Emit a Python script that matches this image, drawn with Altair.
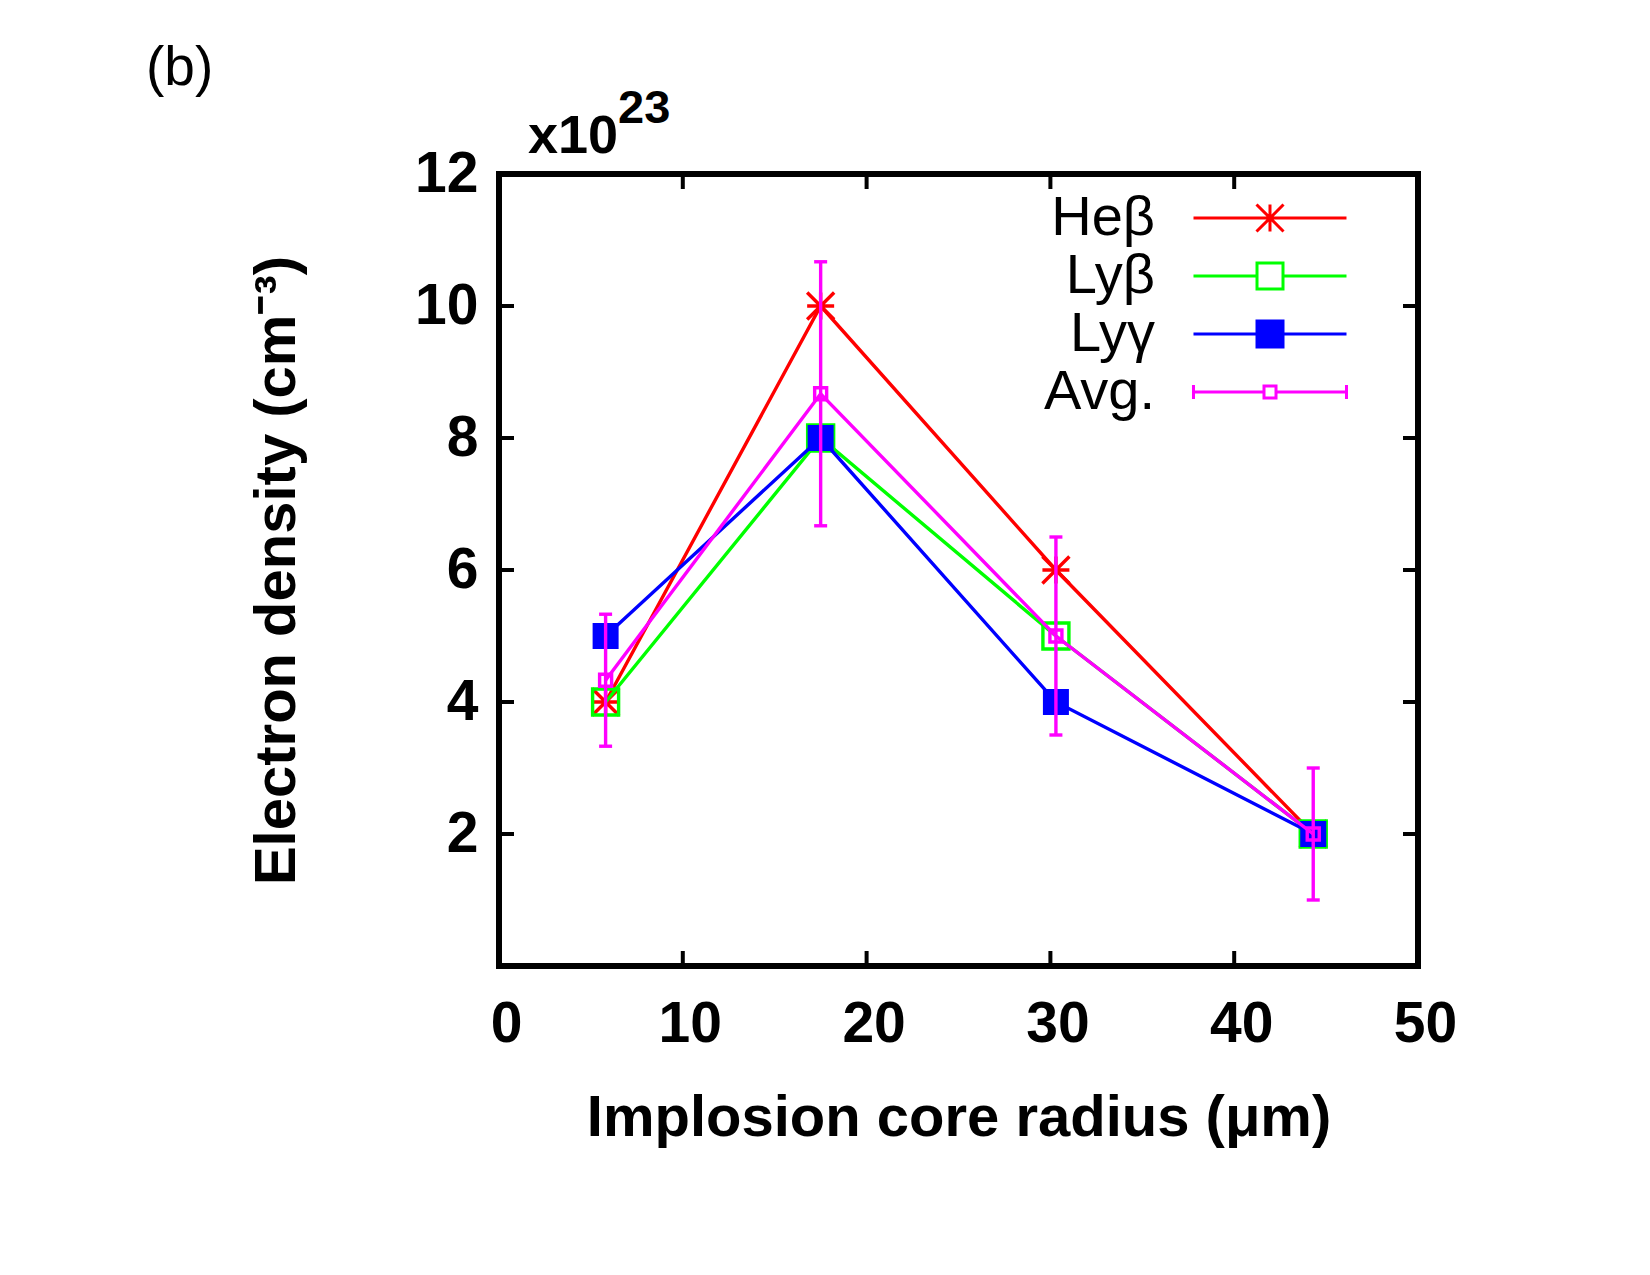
import altair as alt
import pandas as pd

# ---- data ----
radius = [5.8, 17.5, 30.3, 44.3]
he_beta = [4.0, 10.0, 6.0, 2.0]
ly_beta = [4.0, 8.0, 5.0, 2.0]
ly_gamma = [5.0, 8.0, 4.0, 2.0]
avg = [4.33, 8.67, 5.0, 2.0]
avg_err = [1.0, 2.0, 1.5, 1.0]

series_names = ["Heβ", "Lyβ", "Lyγ", "Avg."]
series_colors = ["#ff0000", "#00ff00", "#0000ff", "#ff00ff"]
x_tick_values = [0, 10, 20, 30, 40, 50]
y_tick_values = [2, 4, 6, 8, 10, 12]
x_inner_ticks = [10, 20, 30, 40]
y_inner_ticks = [2, 4, 6, 8, 10]

FONT = "Liberation Sans"
W, H = 919, 792
LW = 3.4

rows = []
for name, vals in zip(series_names, [he_beta, ly_beta, ly_gamma, avg]):
    for r, v, e in zip(radius, vals, avg_err):
        rows.append({"series": name, "radius": r, "density": v,
                     "err": e if name == "Avg." else 0.0})
df = pd.DataFrame(rows)

xs = alt.Scale(domain=[0, 50], nice=False, zero=False)
ys = alt.Scale(domain=[0, 12], nice=False, zero=False)

x_axis = alt.Axis(values=x_tick_values, format="d", title="Implosion core radius (μm)",
                  labelFont=FONT, labelFontSize=57, labelFontWeight="bold", labelColor="black",
                  labelPadding=58, labelBaseline="middle", labelOffset=7,
                  ticks=False, tickSize=0, domain=False, grid=False,
                  labelFlush=False, labelOverlap=False,
                  titleFont=FONT, titleFontSize=58, titleFontWeight="bold", titleColor="black",
                  titleX=W / 2, titleY=169, titleAlign="center", titleBaseline="alphabetic")
y_axis = alt.Axis(values=y_tick_values, format="d", title="Electron density (cm⁻³)",
                  labelFont=FONT, labelFontSize=57, labelFontWeight="bold", labelColor="black",
                  labelPadding=21, ticks=False, tickSize=0, domain=False, grid=False,
                  labelFlush=False, labelOverlap=False,
                  titleFont=FONT, titleFontSize=58, titleFontWeight="bold", titleColor="black",
                  titleX=-205, titleY=H / 2, titleAngle=270, titleAlign="center",
                  titleBaseline="alphabetic")

X = alt.X("radius:Q", scale=xs, axis=x_axis)
Y = alt.Y("density:Q", scale=ys, axis=y_axis)

layers = []

# inward ticks on all four sides
xt = pd.DataFrame({"radius": x_inner_ticks})
yt = pd.DataFrame({"density": y_inner_ticks})
layers.append(alt.Chart(xt).mark_rule(color="black", strokeWidth=4).encode(
    x=X, y=alt.value(H), y2=alt.value(H - 15)))
layers.append(alt.Chart(xt).mark_rule(color="black", strokeWidth=4).encode(
    x=X, y=alt.value(0), y2=alt.value(15)))
layers.append(alt.Chart(yt).mark_rule(color="black", strokeWidth=4).encode(
    y=Y, x=alt.value(0), x2=alt.value(15)))
layers.append(alt.Chart(yt).mark_rule(color="black", strokeWidth=4).encode(
    y=Y, x=alt.value(W), x2=alt.value(W - 15)))

ASTER = "M-1,0H1M0,-1V1M-1,-1L1,1M-1,1L1,-1"
point_style = {
    "Heβ": dict(shape=ASTER, size=729, filled=False, strokeWidth=LW),
    "Lyβ": dict(shape="square", size=676, filled=False, strokeWidth=LW),
    "Lyγ": dict(shape="square", size=676, filled=True),
    "Avg.": dict(shape="square", size=144, filled=False, strokeWidth=LW),
}

for name, col in zip(series_names, series_colors):
    base = alt.Chart(df).transform_filter(alt.datum.series == name)
    layers.append(base.mark_line(color=col, strokeWidth=LW).encode(x=X, y=Y))
    if name == "Avg.":
        eb = base.transform_calculate(lo="datum.density - datum.err",
                                      hi="datum.density + datum.err")
        layers.append(eb.mark_rule(color=col, strokeWidth=LW).encode(
            x=X, y=alt.Y("lo:Q", scale=ys, axis=y_axis), y2=alt.Y2("hi:Q")))
        layers.append(eb.mark_tick(color=col, orient="horizontal", size=13, thickness=LW,
                                   opacity=1).encode(
            x=X, y=alt.Y("lo:Q", scale=ys, axis=y_axis)))
        layers.append(eb.mark_tick(color=col, orient="horizontal", size=13, thickness=LW,
                                   opacity=1).encode(
            x=X, y=alt.Y("hi:Q", scale=ys, axis=y_axis)))
    layers.append(base.mark_point(color=col, opacity=1, **point_style[name]).encode(x=X, y=Y))

# ---- legend: each symbol path holds the sample line and the marker, drawn to the
# right of the (right-aligned) label ----
LEG_R = 26.5                      # px per path unit (sqrt(symbolSize)/2)
LEG_SIZE = (2 * LEG_R) ** 2
CX = 143 / LEG_R                  # centre of sample, right of label end
HALF = 76.5 / LEG_R               # half length of sample line


def u(px):
    return px / LEG_R


def fmt(v):
    return f"{v:.3f}"


def sq(h):
    return (f"M{fmt(CX - h)},{fmt(-h)}H{fmt(CX + h)}V{fmt(h)}H{fmt(CX - h)}Z")


L0, L1 = CX - HALF, CX + HALF
a = u(13.5)
s1 = u(13)
q = u(6)
c = u(7)
PAD = "M-4,0"
legend_paths = [
    PAD + f"M{fmt(L0)},0H{fmt(L1)}"
    f"M{fmt(CX - a)},0H{fmt(CX + a)}M{fmt(CX)},{fmt(-a)}V{fmt(a)}"
    f"M{fmt(CX - a)},{fmt(-a)}L{fmt(CX + a)},{fmt(a)}"
    f"M{fmt(CX - a)},{fmt(a)}L{fmt(CX + a)},{fmt(-a)}",
    PAD + f"M{fmt(L0)},0H{fmt(CX - s1)}M{fmt(CX + s1)},0H{fmt(L1)}" + sq(s1),
    PAD + f"M{fmt(L0)},0H{fmt(L1)}" + sq(s1),
    PAD + f"M{fmt(L0)},{fmt(-c)}V{fmt(c)}M{fmt(L1)},{fmt(-c)}V{fmt(c)}"
    f"M{fmt(L0)},0H{fmt(CX - q)}M{fmt(CX + q)},0H{fmt(L1)}" + sq(q),
]
legend_fills = ["transparent", "transparent", "#0000ff", "transparent"]

leg = alt.Legend(title=None, orient="none", legendX=600, legendY=16,
                 symbolSize=LEG_SIZE, symbolStrokeWidth=3,
                 labelFont=FONT, labelFontSize=56, labelFontWeight="normal",
                 labelColor="black", labelAlign="right", labelOffset=0,
                 labelLimit=0, rowPadding=2, padding=0)

layers.append(alt.Chart(df).mark_point(clip=True, size=LEG_SIZE, strokeWidth=3, opacity=1,
                                       filled=False).encode(
    x=X, y=Y, yOffset=alt.value(3000),
    shape=alt.Shape("series:N", scale=alt.Scale(domain=series_names, range=legend_paths),
                    legend=leg),
    stroke=alt.Stroke("series:N", scale=alt.Scale(domain=series_names, range=series_colors),
                      legend=leg),
    fill=alt.Fill("series:N", scale=alt.Scale(domain=series_names, range=legend_fills),
                  legend=leg),
))

# annotations
ann = pd.DataFrame({"k": [0]})
layers.append(alt.Chart(ann).mark_text(text="(b)", font=FONT, fontSize=55, align="left",
                                       baseline="alphabetic", color="black").encode(
    x=alt.value(-353), y=alt.value(-89)))
layers.append(alt.Chart(ann).mark_text(text="x10", font=FONT, fontSize=54, fontWeight="bold",
                                       align="left", baseline="alphabetic",
                                       color="black").encode(
    x=alt.value(29), y=alt.value(-21)))
layers.append(alt.Chart(ann).mark_text(text="23", font=FONT, fontSize=47, fontWeight="bold",
                                       align="left", baseline="alphabetic",
                                       color="black").encode(
    x=alt.value(119), y=alt.value(-51)))

chart = alt.layer(*layers).properties(
    width=W, height=H,
    autosize=alt.AutoSizeParams(type="none"),
    padding={"left": 499, "top": 174, "right": 232, "bottom": 309},
).configure(background="white").configure_view(stroke="black", strokeWidth=6)

chart.save("out.html", embed_options={"renderer": "svg", "actions": False})
